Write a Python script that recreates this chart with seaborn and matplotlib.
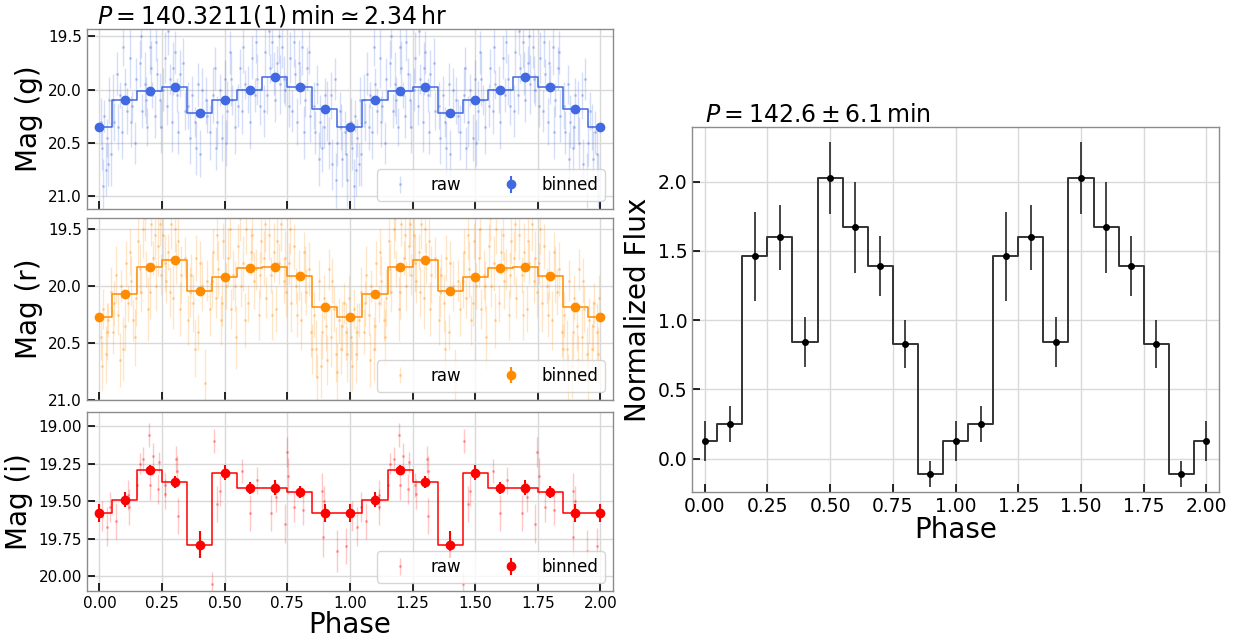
import numpy as np
import seaborn as sns
import matplotlib
matplotlib.use("Agg")
import matplotlib.pyplot as plt

# fase dos bins (um ciclo, repetido para 0-2)
bin_phase = [0.0, 0.1, 0.2, 0.3, 0.4, 0.5, 0.6, 0.7, 0.8, 0.9]

g_bin = [20.35, 20.10, 20.01, 19.97, 20.22, 20.10, 20.00, 19.88, 19.97, 20.18]
g_bin_err = [0.03, 0.025, 0.02, 0.025, 0.04, 0.03, 0.02, 0.025, 0.025, 0.03]
r_bin = [20.27, 20.07, 19.83, 19.77, 20.04, 19.92, 19.84, 19.83, 19.91, 20.18]
r_bin_err = [0.03, 0.03, 0.025, 0.025, 0.025, 0.03, 0.025, 0.025, 0.025, 0.035]
i_bin = [19.58, 19.49, 19.29, 19.37, 19.79, 19.31, 19.41, 19.41, 19.44, 19.58]
i_bin_err = [0.06, 0.05, 0.03, 0.04, 0.09, 0.05, 0.04, 0.05, 0.04, 0.06]

flux_bin = [0.13, 0.25, 1.46, 1.60, 0.84, 2.03, 1.67, 1.39, 0.83, -0.11]
flux_err = [0.145, 0.13, 0.32, 0.235, 0.18, 0.26, 0.33, 0.215, 0.175, 0.095]

# pontos brutos (fase, mag, erro), um ciclo
g_raw = [
    (0.010, 20.55, 0.20), (0.020, 20.25, 0.15), (0.025, 20.75, 0.25), (0.030, 20.45, 0.18),
    (0.040, 20.10, 0.22), (0.045, 20.60, 0.30), (0.060, 20.30, 0.18), (0.070, 19.85, 0.20),
    (0.080, 20.05, 0.12), (0.090, 20.40, 0.25), (0.100, 19.95, 0.15), (0.110, 20.20, 0.22),
    (0.120, 19.70, 0.28), (0.130, 20.15, 0.14), (0.140, 20.50, 0.20), (0.160, 19.75, 0.22),
    (0.170, 20.20, 0.16), (0.180, 19.95, 0.30), (0.190, 20.35, 0.18), (0.200, 19.60, 0.25),
    (0.210, 20.05, 0.12), (0.220, 20.25, 0.20), (0.230, 19.85, 0.15), (0.240, 20.10, 0.26),
    (0.260, 19.70, 0.24), (0.270, 20.15, 0.18), (0.280, 19.90, 0.14), (0.290, 20.30, 0.28),
    (0.300, 19.65, 0.20), (0.310, 20.05, 0.16), (0.320, 19.85, 0.22), (0.340, 20.20, 0.18),
    (0.360, 20.45, 0.25), (0.370, 20.05, 0.18), (0.380, 20.30, 0.14), (0.400, 20.60, 0.22),
    (0.410, 20.00, 0.20), (0.430, 20.25, 0.16), (0.440, 20.40, 0.26), (0.460, 19.80, 0.20),
    (0.470, 20.30, 0.24), (0.480, 20.00, 0.15), (0.490, 20.45, 0.22), (0.500, 19.90, 0.18),
    (0.510, 20.20, 0.28), (0.520, 19.65, 0.20), (0.530, 20.10, 0.14), (0.540, 20.35, 0.25),
    (0.560, 19.80, 0.18), (0.570, 20.20, 0.22), (0.580, 19.95, 0.14), (0.600, 20.30, 0.26),
    (0.610, 19.70, 0.20), (0.620, 20.05, 0.16), (0.630, 19.90, 0.24), (0.640, 20.15, 0.18),
    (0.660, 19.65, 0.22), (0.670, 20.05, 0.18), (0.680, 19.80, 0.14), (0.690, 19.55, 0.25),
    (0.700, 20.10, 0.20), (0.710, 19.75, 0.16), (0.720, 19.95, 0.28), (0.730, 19.60, 0.20),
    (0.740, 20.00, 0.15), (0.760, 19.70, 0.24), (0.770, 20.20, 0.20), (0.780, 19.85, 0.14),
    (0.790, 20.30, 0.22), (0.800, 19.95, 0.18), (0.810, 19.60, 0.26), (0.820, 20.10, 0.16),
    (0.830, 19.80, 0.20), (0.840, 20.25, 0.24), (0.860, 20.40, 0.20), (0.870, 19.95, 0.18),
    (0.880, 20.30, 0.25), (0.890, 20.55, 0.22), (0.900, 20.05, 0.16), (0.910, 20.20, 0.28),
    (0.930, 20.70, 0.24), (0.940, 19.90, 0.20), (0.950, 20.50, 0.22), (0.960, 20.20, 0.18),
    (0.970, 20.65, 0.26), (0.980, 20.40, 0.20), (0.990, 20.85, 0.25),
    (0.005, 20.30, 0.22), (0.015, 20.90, 0.25), (0.035, 20.70, 0.20), (0.055, 20.10, 0.25),
    (0.075, 20.35, 0.22), (0.095, 19.60, 0.18), (0.125, 20.30, 0.24), (0.145, 19.90, 0.20),
    (0.165, 19.50, 0.20), (0.185, 20.10, 0.22), (0.205, 19.80, 0.26), (0.225, 19.55, 0.18),
    (0.245, 20.35, 0.24), (0.255, 20.00, 0.20), (0.275, 19.45, 0.22), (0.295, 19.80, 0.25),
    (0.315, 20.40, 0.20), (0.335, 19.75, 0.24), (0.355, 20.15, 0.22), (0.385, 20.55, 0.25),
    (0.395, 19.95, 0.20), (0.425, 20.10, 0.22), (0.455, 20.05, 0.26), (0.465, 20.55, 0.20),
    (0.505, 20.50, 0.22), (0.525, 19.90, 0.25), (0.555, 20.15, 0.20), (0.575, 19.60, 0.24),
    (0.595, 20.00, 0.22), (0.625, 19.55, 0.20), (0.655, 20.20, 0.24), (0.675, 19.45, 0.22),
    (0.695, 19.85, 0.20), (0.715, 19.50, 0.25), (0.735, 19.90, 0.22), (0.755, 20.15, 0.20),
    (0.775, 19.55, 0.24), (0.795, 19.75, 0.22), (0.815, 20.40, 0.25), (0.835, 19.65, 0.20),
    (0.855, 20.15, 0.22), (0.875, 20.65, 0.25), (0.895, 20.35, 0.20), (0.915, 20.50, 0.24),
    (0.925, 20.05, 0.22), (0.945, 20.85, 0.26), (0.965, 20.35, 0.22), (0.985, 20.60, 0.24),
]

r_raw = [
    (0.005, 20.45, 0.20), (0.015, 20.20, 0.18), (0.025, 20.60, 0.25), (0.035, 20.30, 0.15),
    (0.045, 20.05, 0.22), (0.055, 20.40, 0.20), (0.065, 19.90, 0.25), (0.075, 20.25, 0.18),
    (0.085, 20.00, 0.14), (0.095, 20.55, 0.28), (0.105, 19.80, 0.20), (0.115, 20.15, 0.16),
    (0.125, 19.95, 0.22), (0.135, 20.30, 0.18), (0.145, 20.10, 0.25), (0.155, 19.60, 0.22),
    (0.165, 20.05, 0.18), (0.175, 19.50, 0.25), (0.185, 19.85, 0.16), (0.195, 20.20, 0.28),
    (0.205, 19.45, 0.20), (0.215, 19.75, 0.15), (0.225, 20.00, 0.22), (0.235, 19.65, 0.26),
    (0.245, 19.90, 0.18), (0.255, 19.55, 0.24), (0.265, 19.95, 0.20), (0.275, 19.70, 0.16),
    (0.285, 19.45, 0.22), (0.295, 20.10, 0.28), (0.305, 19.80, 0.18), (0.315, 19.60, 0.20),
    (0.325, 19.90, 0.25), (0.340, 19.75, 0.18), (0.355, 20.30, 0.22), (0.365, 19.90, 0.18),
    (0.375, 20.15, 0.25), (0.385, 19.75, 0.20), (0.395, 20.40, 0.16), (0.410, 20.00, 0.22),
    (0.420, 20.85, 0.30), (0.430, 19.95, 0.18), (0.440, 20.20, 0.24), (0.455, 19.70, 0.20),
    (0.465, 20.10, 0.18), (0.475, 19.85, 0.25), (0.485, 20.30, 0.22), (0.495, 19.60, 0.16),
    (0.505, 20.00, 0.20), (0.515, 19.75, 0.26), (0.525, 20.20, 0.18), (0.535, 19.90, 0.22),
    (0.545, 20.45, 0.28), (0.555, 19.65, 0.20), (0.565, 20.00, 0.18), (0.575, 19.80, 0.24),
    (0.585, 19.50, 0.22), (0.595, 20.15, 0.16), (0.605, 19.70, 0.20), (0.615, 19.95, 0.25),
    (0.625, 19.85, 0.18), (0.635, 20.25, 0.22), (0.645, 19.60, 0.20), (0.655, 19.75, 0.24),
    (0.665, 20.10, 0.18), (0.675, 19.55, 0.22), (0.685, 19.90, 0.16), (0.695, 19.70, 0.26),
    (0.705, 20.20, 0.20), (0.715, 19.80, 0.18), (0.725, 19.45, 0.24), (0.735, 19.95, 0.20),
    (0.745, 20.05, 0.22), (0.755, 19.80, 0.18), (0.765, 20.15, 0.25), (0.775, 19.65, 0.20),
    (0.785, 20.00, 0.16), (0.795, 19.90, 0.22), (0.805, 20.30, 0.26), (0.815, 19.70, 0.18),
    (0.825, 20.05, 0.20), (0.835, 19.85, 0.24), (0.845, 20.40, 0.22), (0.855, 20.25, 0.20),
    (0.865, 20.55, 0.25), (0.875, 19.95, 0.18), (0.885, 20.70, 0.28), (0.895, 20.10, 0.20),
    (0.905, 20.35, 0.22), (0.915, 19.85, 0.18), (0.925, 20.45, 0.26), (0.935, 20.20, 0.20),
    (0.945, 20.60, 0.24), (0.955, 20.30, 0.20), (0.965, 20.55, 0.22), (0.975, 20.15, 0.18),
    (0.985, 20.40, 0.25), (0.995, 20.10, 0.20),
    (0.010, 20.70, 0.22), (0.030, 20.40, 0.25), (0.060, 20.15, 0.20), (0.080, 20.65, 0.24),
    (0.100, 20.35, 0.22), (0.120, 19.70, 0.20), (0.140, 20.45, 0.25), (0.160, 19.85, 0.22),
    (0.180, 19.40, 0.20), (0.200, 20.05, 0.24), (0.220, 19.55, 0.22), (0.240, 19.45, 0.20),
    (0.260, 19.80, 0.25), (0.280, 20.05, 0.22), (0.300, 19.50, 0.20), (0.320, 20.20, 0.24),
    (0.360, 20.05, 0.22), (0.380, 20.55, 0.25), (0.400, 19.80, 0.20), (0.450, 19.95, 0.24),
    (0.470, 19.55, 0.22), (0.490, 20.15, 0.20), (0.520, 19.50, 0.25), (0.540, 20.00, 0.22),
    (0.560, 19.40, 0.20), (0.580, 20.30, 0.24), (0.610, 19.55, 0.22), (0.640, 19.90, 0.20),
    (0.660, 19.45, 0.25), (0.690, 20.25, 0.22), (0.710, 19.60, 0.20), (0.740, 19.75, 0.24),
    (0.760, 19.50, 0.22), (0.790, 20.25, 0.20), (0.820, 19.90, 0.25), (0.850, 20.55, 0.22),
    (0.870, 20.80, 0.20), (0.890, 20.40, 0.24), (0.910, 20.65, 0.22), (0.930, 19.95, 0.20),
    (0.950, 20.75, 0.25), (0.970, 20.35, 0.22), (0.990, 20.60, 0.24),
]

i_raw = [
    (0.010, 19.60, 0.10), (0.030, 19.67, 0.13), (0.044, 19.54, 0.10), (0.066, 19.63, 0.12),
    (0.115, 19.46, 0.10), (0.118, 19.54, 0.12), (0.150, 19.39, 0.08), (0.160, 19.25, 0.07),
    (0.175, 19.22, 0.08), (0.197, 19.06, 0.08), (0.200, 19.39, 0.10), (0.213, 19.20, 0.09),
    (0.233, 19.42, 0.10), (0.236, 19.24, 0.07), (0.260, 19.39, 0.08), (0.262, 19.45, 0.10),
    (0.307, 19.22, 0.09), (0.310, 19.30, 0.10), (0.312, 19.60, 0.12), (0.450, 20.05, 0.08),
    (0.457, 19.10, 0.08), (0.470, 19.52, 0.12), (0.480, 19.43, 0.10), (0.570, 19.30, 0.08),
    (0.600, 19.58, 0.12), (0.627, 19.36, 0.09), (0.685, 19.58, 0.12), (0.705, 19.47, 0.10),
    (0.740, 19.65, 0.13), (0.747, 19.17, 0.10), (0.753, 19.33, 0.12), (0.778, 19.54, 0.10),
    (0.814, 19.56, 0.10), (0.890, 19.43, 0.12), (0.892, 19.74, 0.13), (0.898, 19.50, 0.10),
    (0.948, 19.83, 0.14), (0.985, 19.80, 0.12),
]

sns.set_theme(style="whitegrid", rc={
    "axes.edgecolor": "0.55",
    "axes.linewidth": 1.0,
    "grid.color": "0.85",
    "grid.linewidth": 1.0,
    "xtick.color": "black",
    "ytick.color": "black",
    "xtick.direction": "in",
    "ytick.direction": "in",
    "xtick.bottom": True,
    "ytick.left": True,
    "text.color": "black",
    "axes.labelcolor": "black",
})
plt.rcParams["font.family"] = ["DejaVu Sans"]
plt.rcParams["mathtext.fontset"] = "dejavusans"


def dobra(valores):
    v = list(valores)
    return np.array(v + v + v[:1])


bp = dobra(bin_phase)
bp[10:20] += 1.0
bp[20] = 2.0

fig = plt.figure(figsize=(12.42, 6.41), dpi=100)
ax_g = fig.add_axes([0.0700, 0.6739, 0.4235, 0.2808])
ax_r = fig.add_axes([0.0700, 0.3760, 0.4235, 0.2839])
ax_i = fig.add_axes([0.0700, 0.0780, 0.4235, 0.2793])
ax_f = fig.add_axes([0.5572, 0.2325, 0.4243, 0.5694])

bandas = [
    (ax_g, g_raw, g_bin, g_bin_err, "royalblue", "Mag (g)", (21.12, 19.43), [19.5, 20.0, 20.5, 21.0]),
    (ax_r, r_raw, r_bin, r_bin_err, "darkorange", "Mag (r)", (21.0, 19.40), [19.5, 20.0, 20.5, 21.0]),
    (ax_i, i_raw, i_bin, i_bin_err, "red", "Mag (i)", (20.10, 18.905), [19.0, 19.25, 19.5, 19.75, 20.0]),
]

for ax, raw, mb, eb, cor, rotulo, lim, yt in bandas:
    ph, mag, err = np.array(raw).T
    ph2 = np.concatenate([ph, ph + 1.0])
    mag2 = np.concatenate([mag, mag])
    err2 = np.concatenate([err, err])
    ax.errorbar(ph2, mag2, yerr=err2, fmt=".", ms=2.5, color=cor, alpha=0.22,
                elinewidth=1.0, label="raw")
    m = dobra(mb)
    sns.lineplot(x=bp, y=m, ax=ax, color=cor, lw=1.1, drawstyle="steps-mid",
                 estimator=None, sort=False, legend=False)
    ax.errorbar(bp, m, yerr=dobra(eb), fmt="o", ms=6, color=cor, elinewidth=1.5,
                label="binned")
    ax.set_xlim(-0.05, 2.05)
    ax.set_ylim(*lim)
    ax.set_yticks(yt)
    ax.set_xticks([0, 0.25, 0.5, 0.75, 1.0, 1.25, 1.5, 1.75, 2.0])
    ax.set_ylabel(rotulo, fontsize=20)
    ax.set_xlabel("")
    ax.tick_params(length=6, width=1.2, labelsize=11)
    ax.legend(loc="lower right", ncol=2, fontsize=12)

ax_g.set_xticklabels([])
ax_r.set_xticklabels([])
ax_i.set_xlabel("Phase", fontsize=20, labelpad=0)
ax_g.text(0.019, 1.028, r"$P = 140.3211(1)\,\mathrm{min} \simeq 2.34\,\mathrm{hr}$",
          transform=ax_g.transAxes, fontsize=17, va="baseline", ha="left")

# painel do fluxo normalizado
f = dobra(flux_bin)
sns.lineplot(x=bp, y=f, ax=ax_f, color="0.2", lw=1.4, drawstyle="steps-mid",
             estimator=None, sort=False, legend=False)
ax_f.errorbar(bp, f, yerr=dobra(flux_err), fmt="o", ms=4, color="black",
              ecolor="0.15", elinewidth=1.2)
ax_f.set_xlim(-0.05, 2.05)
ax_f.set_ylim(-0.24, 2.395)
ax_f.set_xticks([0, 0.25, 0.5, 0.75, 1.0, 1.25, 1.5, 1.75, 2.0])
ax_f.set_yticks([0.0, 0.5, 1.0, 1.5, 2.0])
ax_f.tick_params(length=6, width=1.2, labelsize=13.5)
ax_f.set_xlabel("Phase", fontsize=20, labelpad=0)
ax_f.set_ylabel("Normalized Flux", fontsize=20)
ax_f.text(0.025, 1.014, r"$P = 142.6 \pm 6.1\,\mathrm{min}$",
          transform=ax_f.transAxes, fontsize=17, va="baseline", ha="left")

fig.savefig("out.png", dpi=100)
